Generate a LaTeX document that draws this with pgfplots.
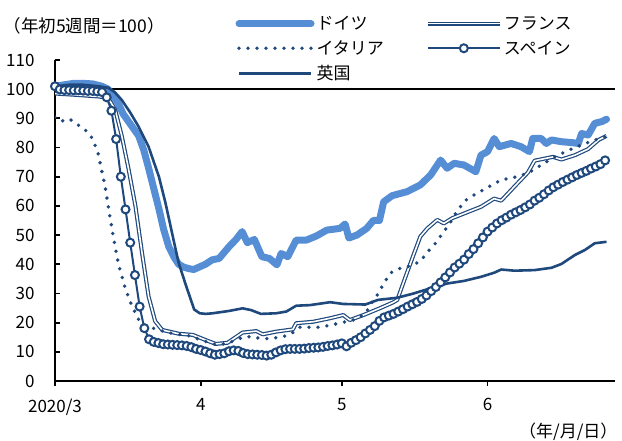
\documentclass[border=0pt]{standalone}
\usepackage{fontspec}
\setmainfont{Noto Sans CJK JP}
\usepackage{pgfplots}
\pgfplotsset{compat=1.18}
\definecolor{lightblue}{RGB}{85,142,213}
\definecolor{navy}{RGB}{31,73,125}

% day 0 = 2020-03-01
\pgfplotstableread{
d v
0 101
2 101.5
4 102
6 102
8 101.8
10 101
11.3 100
12.5 97.5
13.5 95
14.5 91.5
15.6 89
16.7 86.5
17.8 84
18.9 79
19.9 73
21 66
22.1 59
23.1 52
24.2 46
25.3 42.5
26.3 40
27.4 39
28.5 38.5
29.5 38.2
30.6 39
32 40
33.4 41.5
34.9 42
37.0 46
38.5 48.5
39.8 51.2
40.9 47.4
42.4 48.5
44.0 42.6
45.6 42
47.2 39.8
48.1 43.7
49.5 42.6
51.3 48.3
53.5 48.3
55.6 49.7
57.8 51.7
60.6 52.3
61.7 53.8
62.5 49
64.2 50
66.3 52.3
67.7 55
69.0 55
69.9 61.4
71.7 63.5
74.9 64.9
77.7 67.2
79.9 70.6
82.0 75.7
83.4 72.9
84.9 74.6
87.0 74
89.5 71.7
90.6 77.4
92.0 78.6
93.4 83.1
94.5 80.3
97.0 81.4
99.1 80.3
100.9 78.6
101.6 83.1
103.4 83.1
104.5 81.4
105.6 82.6
107.7 82
109.9 81.7
111.3 81.4
112.0 84.8
113.4 84.3
114.8 88.3
116.3 88.9
117.3 89.7
}\germany

\pgfplotstableread{
d v
0 98.5
4.9 98
9.2 97.5
11.3 97
12.8 93
14.2 84
15.6 73
17.1 60
18.5 44
19.9 29
21.3 20.5
22.8 17.5
26.3 16.2
29.3 15.8
32.1 14
34.2 12.7
36.7 13.1
39.9 16.6
42.8 17.1
44.2 16
47.0 16.9
50.6 17.7
51.3 19.8
54.9 20.3
58.5 21.5
61.3 22.6
62.7 20.9
65.6 22.6
69.2 25
72.0 27
72.8 27.8
74.5 35.5
76.2 43
77.7 49.5
79.2 52.3
81.3 55.2
82.7 54
84.5 55.8
87.0 57.4
90.6 59.7
93.4 62.5
94.9 61.8
97.7 66.6
100.6 71.5
102.0 75.5
105.9 76.8
107.7 75.9
110.6 77.4
113.4 79.5
115.6 82.6
117.3 84
}\france

\pgfplotstableread{
d v
0 90.4
1.3 89
3.1 89.8
5.3 87.3
7.1 85.2
8.1 82.6
9.2 77.8
9.9 72.3
10.6 67.2
11.3 60
12.4 49.5
13.5 40
14.9 32
16.3 26
17.8 21
19.2 19
22.0 17.5
24.2 16.5
28.5 15.5
32.1 13.5
34.2 12.5
36.5 12.8
39.2 14.5
40.6 15.3
43.8 14.6
45.6 14.5
47.7 15
49.2 15.5
50.5 16.5
52.0 18.4
56.3 18.4
59.9 19.6
63.4 20.9
66.0 23
67.0 26
68.7 29.8
69.6 32.5
71.3 37
73.4 38.6
75.6 39.5
77.7 41
79.4 44.5
81.1 47.5
82.4 50.6
83.8 53.5
85.6 58.5
87.4 62
89.1 63.7
92.0 66.3
94.9 68.9
97.7 69.8
100.6 71.2
103.4 74
106.3 76.8
109.1 79
112.0 80.9
114.8 82.6
117.0 83.7
}\italy

\pgfplotstableread{
d v
0 101.0
1 99.9
2 99.7
3 99.7
4 99.6
5 99.6
6 99.5
7 99.4
8 99.4
9 99.2
10 99.0
11 97.2
12 92.6
13 82.9
14 70.0
15 58.8
16 47.4
17 36.3
18 25.5
19 18.1
20 14.3
21 13.4
22 13.0
23 12.6
24 12.5
25 12.4
26 12.3
27 12.2
28 12.0
29 11.6
30 11.0
31 10.6
32 10.1
33 9.5
34 9.0
35 9.2
36 9.5
37 10.2
38 10.5
39 10.3
40 9.6
41 9.2
42 9.1
43 9.0
44 8.9
45 8.7
46 9.0
47 9.8
48 10.5
49 10.9
50 11.0
51 11.0
52 11.0
53 11.1
54 11.3
55 11.4
56 11.5
57 11.7
58 12.0
59 12.2
60 12.5
61 12.9
62 11.9
63 13.1
64 14.0
65 15.0
66 16.3
67 17.5
68 18.8
69 20.6
70 21.8
71 22.4
72 23.0
73 23.8
74 24.6
75 25.5
76 26.3
77 27.1
78 28.1
79 29.3
80 30.8
81 32.2
82 33.8
83 35.5
84 37.2
85 38.9
86 40.2
87 41.6
88 43.5
89 45.2
90 47.2
91 49.2
92 51.2
93 52.6
94 54.0
95 55.1
96 56.0
97 57.0
98 57.8
99 58.6
100 59.5
101 60.5
102 61.8
103 62.8
104 64.0
105 65.3
106 66.4
107 67.3
108 68.2
109 69.0
110 69.8
111 70.6
112 71.3
113 72.0
114 72.8
115 73.5
116 74.3
117 75.6
}\spain

\pgfplotstableread{
d v
0 101
3 101.5
6 101.5
9.2 101
11.3 100.5
12.7 99
14.2 96.3
16 92
17.8 87.1
19.9 80.3
22.1 70
23.5 61
25.6 45.5
26.3 40.5
27.8 33
29.6 24.5
30.8 23.2
32.1 23
33.5 23.2
37.0 24
39.9 24.9
41.7 24.3
43.8 23
47.0 23.2
49.2 23.8
51.3 25.8
54.2 26
58.5 27
61.3 26.4
66.0 26.2
68.7 27.8
72.7 28.5
76.3 30
79.9 31.8
83.4 33.4
87.0 34.3
90.6 35.7
93.4 37.1
94.9 38.2
97.7 37.8
102.0 38
105.6 38.8
107.7 40.1
110.6 43.2
112.7 44.9
114.8 47.2
117.3 47.7
}\uk

\begin{document}
\begin{tikzpicture}
\useasboundingbox (0,0) rectangle (622pt,441pt);
\begin{axis}[
  at={(55pt,60pt)}, anchor=south west,
  scale only axis, width=560pt, height=321pt,
  xmin=0, xmax=119.1, ymin=0, ymax=110,
  axis x line=bottom, axis y line=left,
  axis line style={-, line width=2.2pt, black},
  xtick={0,31,61,92}, xticklabels={2020/3,4,5,6},
  ytick={0,10,...,110},
  xtick align=outside, ytick align=inside,
  major tick length=5pt,
  tick style={line width=1.8pt, black},
  tick label style={font=\fontsize{17pt}{20pt}\selectfont},
  /pgf/number format/assume math mode=true,
  yticklabel style={xshift=-17pt},
  xticklabel style={yshift=-9pt},
  legend columns=2,
  legend cell align=left,
  legend style={at={(0.322,1.143)}, anchor=north west, draw=none, fill=none,
    font=\fontsize{17pt}{20pt}\selectfont, inner sep=0pt,
    row sep=5.5pt, nodes={inner sep=2pt},
    /tikz/every even column/.append style={column sep=40pt}},
  legend image code/.code={\draw[mark repeat=2,mark phase=2,#1]
    plot coordinates {(0pt,0pt) (36pt,0pt) (72pt,0pt)};},
]
% index line at 100
\addplot[black, line width=2pt, forget plot] coordinates {(0,100) (119.1,100)};

\addplot[lightblue, line width=7pt, line join=round, line cap=round]
  table[x=d, y=v] {\germany};
\addlegendentry{ドイツ}

\addplot[navy, line width=1.2pt, double=white, double distance=1.6pt, line join=round]
  table[x=d, y=v] {\france};
\addlegendentry{フランス}

\addplot[navy, line width=3.8pt, line cap=round, dash pattern=on 0pt off 9pt]
  table[x=d, y=v] {\italy};
\addlegendentry{イタリア}

\addplot[navy, line width=2pt, mark=*, mark size=4pt,
  mark options={solid, fill=white, draw=navy, line width=2pt}]
  table[x=d, y=v] {\spain};
\addlegendentry{スペイン}

\addplot[navy, line width=2.6pt, line join=round]
  table[x=d, y=v] {\uk};
\addlegendentry{英国}
\end{axis}
\node[anchor=west, font=\fontsize{17.5pt}{20pt}\selectfont] at (0pt,415pt) {（年初5週間＝100）};
\node[anchor=east, font=\fontsize{17pt}{20pt}\selectfont] at (621pt,9pt) {（年/月/日）};
\end{tikzpicture}
\end{document}
